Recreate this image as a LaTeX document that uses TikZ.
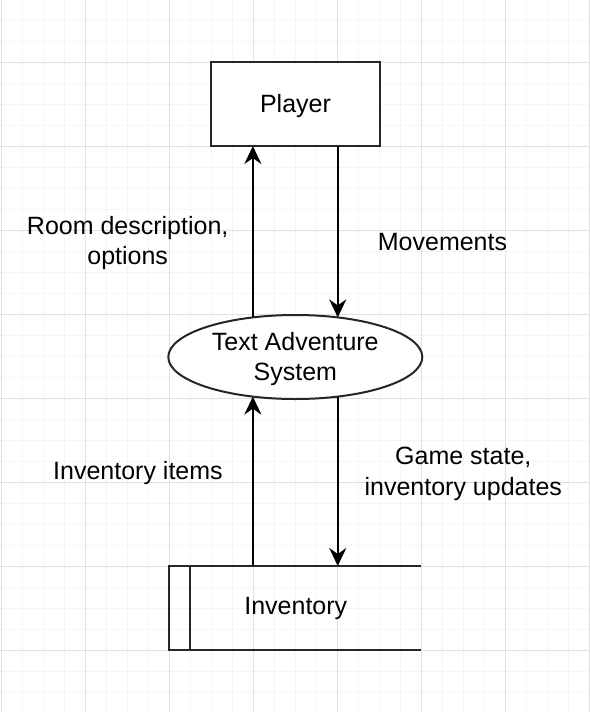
\documentclass[tikz,border=0pt]{standalone}
\usepackage{fontspec}
\setmainfont{Liberation Sans}
\usepackage{tikz}
\usetikzlibrary{shapes, arrows.meta, positioning}

\begin{document}
\begin{tikzpicture}[x=1pt, y=-1pt, >={Stealth[length=18pt, width=17pt, inset=6pt]},
    every node/.style={font=\fontsize{25}{30.5}\selectfont, align=center},
    boxline/.style={draw=black!85, line width=2pt},
    flow/.style={->, draw=black, line width=2pt}]
    \useasboundingbox (0,0) rectangle (589,712);
    \fill[white] (0,0) rectangle (589,712);
    \foreach \x in {1,22,...,589} \draw[black!4, line width=1pt] (\x,0) -- (\x,712);
    \foreach \y in {20,41,...,712} \draw[black!4, line width=1pt] (0,\y) -- (589,\y);
    \foreach \x in {1,85,...,589} \draw[black!12, line width=1pt] (\x,0) -- (\x,712);
    \foreach \y in {62,146,...,712} \draw[black!12, line width=1pt] (0,\y) -- (589,\y);

    \node[boxline, fill=white, minimum width=168.5, minimum height=84, inner sep=0, outer sep=0] (player) at (295.7,104) {};
    \node (playername) at (295.5,106.5) {Player};
    \node[boxline, ellipse, fill=white, minimum width=254, minimum height=84, inner sep=0, outer sep=0] (sys) at (295.3,357) {};
    \node (sysname) at (295.3,359) {Text Adventure\\System};
    \node[minimum width=252, minimum height=84, inner sep=0, outer sep=0] (inv) at (295,608) {};
    \node (invname) at (295.8,608) {Inventory};
    \draw[boxline] (inv.north east) -- (inv.north west) -- (inv.south west) -- (inv.south east);
    \draw[boxline] ([xshift=21]inv.north west) -- ([xshift=21]inv.south west);

    \draw[flow] (sys.137) -- (sys.137 |- player.south);
    \draw[flow] (player.south -| sys.43) -- (sys.43);
    \draw[flow] (inv.north -| sys.-137) -- (sys.-137);
    \draw[flow] (sys.-43) -- (sys.-43 |- inv.north);

    \node (lblroom) at (127.7,243) {Room description,\\options};
    \node (lblmove) at (442.5,242) {Movements};
    \node (lblitems) at (138,473) {Inventory items};
    \node (lblstate) at (463.3,474) {Game state,\\inventory updates};
\end{tikzpicture}
\end{document}
